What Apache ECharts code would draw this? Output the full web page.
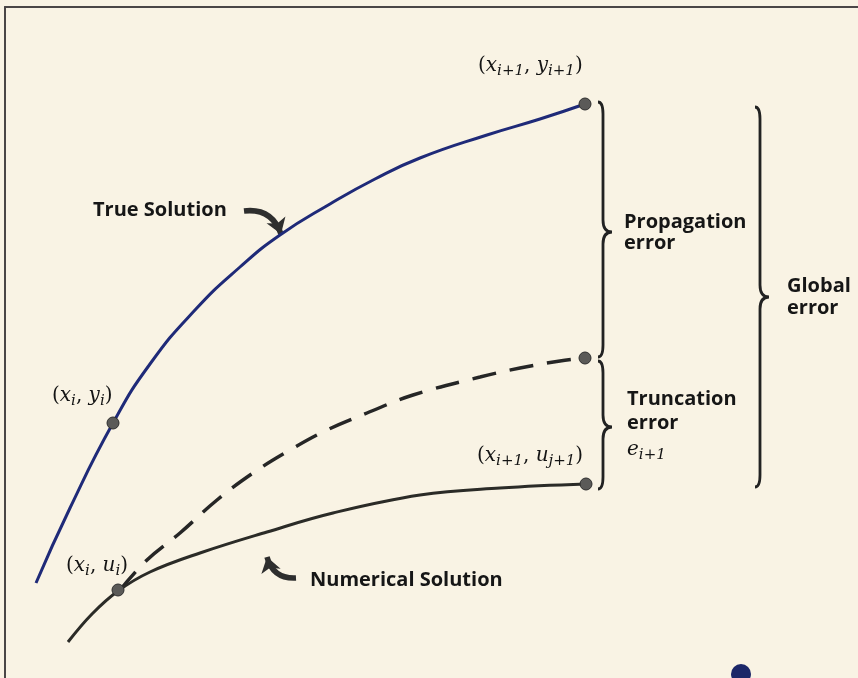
<!DOCTYPE html>
<html>
<head>
<meta charset="utf-8">
<script src="https://cdn.jsdelivr.net/npm/echarts@6/dist/echarts.min.js"></script>
<style>
  html, body { margin: 0; padding: 0; background: #f9f3e4; }
  #chart { width: 858px; height: 678px; }
</style>
</head>
<body>
<div id="chart"></div>
<script>
// curves (x to the right, y downward)
var trueX = [36, 70, 113, 150, 195, 240, 280, 330, 375, 420, 487, 540, 585];
var trueY = [583, 508, 423, 364, 310, 267, 235, 204, 179, 158, 135, 119, 104];

var dashX = [120, 147, 180, 217, 253, 290, 327, 367, 413, 480, 520, 560, 585];
var dashY = [590, 560, 533, 500, 473, 450, 430, 413, 395, 377, 368, 361, 358];

var numX = [68, 92, 118, 150, 200, 267, 333, 420, 500, 586];
var numY = [642, 614, 591, 572, 553, 532, 513, 495, 488, 484];

// marked points
var dotX = [113, 118, 585, 585, 586];
var dotY = [423, 590, 104, 358, 484];

// braces: x of the stem, top, tip, bottom
var braceX = [603, 603, 760];
var braceTop = [102, 361, 107];
var braceMid = [232, 427, 297];
var braceBot = [357, 489, 487];

// curved pointer arrows
var arrowFrom = [[244, 211], [296, 578]];
var arrowTo = [[281, 234], [267, 557]];

// plain labels
var noteText = ['True Solution', 'Propagation', 'error', 'Global', 'error', 'Truncation', 'error', 'Numerical Solution'];
var noteX = [93, 624, 624, 787, 787, 627, 627, 310];
var noteY = [210, 222, 243, 286, 308, 399, 423, 580];

// math labels (rich text)
var mathText = [
  '{p|(}{v|x}{s|i+1}{p|, }{v|y}{s|i+1}{p|)}',
  '{p|(}{v|x}{s|i}{p|, }{v|y}{s|i}{p|)}',
  '{p|(}{v|x}{s|i+1}{p|, }{v|u}{s|j+1}{p|)}',
  '{p|(}{v|x}{s|i}{p|, }{v|u}{s|i}{p|)}',
  '{v|e}{s|i+1}'
];
var mathX = [478, 52, 477, 66, 627];
var mathY = [66, 396, 456, 566, 450];

var logoX = [741];
var logoY = [674];

function pairs(xs, ys) {
  return xs.map(function (x, i) { return [x, ys[i]]; });
}

var myChart = echarts.init(document.getElementById('chart'));

var mathRich = {
  p: { fontFamily: 'DejaVu Serif', fontSize: 20, color: '#141414', lineHeight: 26 },
  v: { fontFamily: 'DejaVu Serif', fontStyle: 'italic', fontSize: 20, color: '#141414', lineHeight: 26 },
  s: { fontFamily: 'DejaVu Serif', fontStyle: 'italic', fontSize: 15, color: '#141414', lineHeight: 15, verticalAlign: 'bottom' }
};

var option = {
  backgroundColor: '#f9f3e4',
  animation: false,
  grid: { left: 5, top: 7, right: 0, bottom: 0 },
  xAxis: {
    type: 'value',
    min: 5,
    max: 858,
    position: 'top',
    axisLine: { show: true, onZero: false, lineStyle: { color: '#4a4646', width: 2 } },
    axisTick: { show: false },
    axisLabel: { show: false },
    splitLine: { show: false }
  },
  yAxis: {
    type: 'value',
    min: 7,
    max: 678,
    inverse: true,
    axisLine: { show: true, onZero: false, lineStyle: { color: '#4a4646', width: 2 } },
    axisTick: { show: false },
    axisLabel: { show: false },
    splitLine: { show: false }
  },
  series: [
    {
      name: 'True Solution',
      type: 'line',
      data: pairs(trueX, trueY),
      smooth: 0.5,
      showSymbol: false,
      lineStyle: { color: '#1f2a78', width: 3 },
      silent: true
    },
    {
      name: 'Estimate',
      type: 'line',
      data: pairs(dashX, dashY),
      smooth: 0.4,
      showSymbol: false,
      lineStyle: { color: '#262626', width: 3.5, type: [24, 14] },
      silent: true
    },
    {
      name: 'Numerical Solution',
      type: 'line',
      data: pairs(numX, numY),
      smooth: 0.4,
      showSymbol: false,
      lineStyle: { color: '#2b2b27', width: 3 },
      silent: true
    },
    {
      name: 'points',
      type: 'scatter',
      data: pairs(dotX, dotY),
      symbolSize: 12,
      itemStyle: { color: '#5b5a58', borderColor: '#2e2e2e', borderWidth: 1, opacity: 1 },
      silent: true,
      z: 5
    },
    {
      name: 'braces',
      type: 'custom',
      data: braceX.map(function (x, i) { return [x, braceTop[i], braceMid[i], braceBot[i]]; }),
      renderItem: function (params, api) {
        var top = api.coord([api.value(0), api.value(1)]);
        var mid = api.coord([api.value(0), api.value(2)]);
        var bot = api.coord([api.value(0), api.value(3)]);
        var x = top[0], w = 9, h = 12;
        var d = 'M' + (x - 5) + ' ' + top[1] +
          ' Q' + x + ' ' + top[1] + ' ' + x + ' ' + (top[1] + h) +
          ' L' + x + ' ' + (mid[1] - h) +
          ' Q' + x + ' ' + mid[1] + ' ' + (x + w) + ' ' + mid[1] +
          ' Q' + x + ' ' + mid[1] + ' ' + x + ' ' + (mid[1] + h) +
          ' L' + x + ' ' + (bot[1] - h) +
          ' Q' + x + ' ' + bot[1] + ' ' + (x - 5) + ' ' + bot[1];
        return {
          type: 'path',
          shape: { pathData: d },
          style: { fill: 'none', stroke: '#222', lineWidth: 2.8 }
        };
      },
      silent: true
    },
    {
      name: 'arrows',
      type: 'lines',
      coordinateSystem: 'cartesian2d',
      data: arrowFrom.map(function (p, i) { return { coords: [p, arrowTo[i]] }; }),
      symbol: ['none', 'arrow'],
      symbolSize: [15, 15],
      lineStyle: { color: '#2e2e2e', width: 5.5, curveness: 0.4, opacity: 1 },
      silent: true
    },
    {
      name: 'notes',
      type: 'scatter',
      symbolSize: 0,
      itemStyle: { color: '#f9f3e4', opacity: 1 },
      data: noteText.map(function (t, i) {
        return { value: [noteX[i], noteY[i]], name: t };
      }),
      label: {
        show: true,
        position: 'inside',
        align: 'left',
        verticalAlign: 'middle',
        formatter: '{b}',
        fontFamily: 'Open Sans',
        fontWeight: 'bold',
        fontSize: 20,
        color: '#161616',
        opacity: 1
      },
      silent: true,
      z: 6
    },
    {
      name: 'math',
      type: 'scatter',
      symbolSize: 0,
      itemStyle: { color: '#f9f3e4', opacity: 1 },
      data: mathText.map(function (t, i) {
        return { value: [mathX[i], mathY[i]], name: t };
      }),
      label: {
        show: true,
        position: 'inside',
        align: 'left',
        verticalAlign: 'middle',
        formatter: function (p) { return p.name; },
        rich: mathRich,
        opacity: 1
      },
      silent: true,
      z: 6
    },
    {
      name: 'logo',
      type: 'scatter',
      data: pairs(logoX, logoY),
      symbolSize: 20,
      itemStyle: { color: '#1c2768', opacity: 1 },
      silent: true
    }
  ]
};

myChart.setOption(option);
window.onresize = function () {
  myChart.resize();
};
</script>
</body>
</html>
